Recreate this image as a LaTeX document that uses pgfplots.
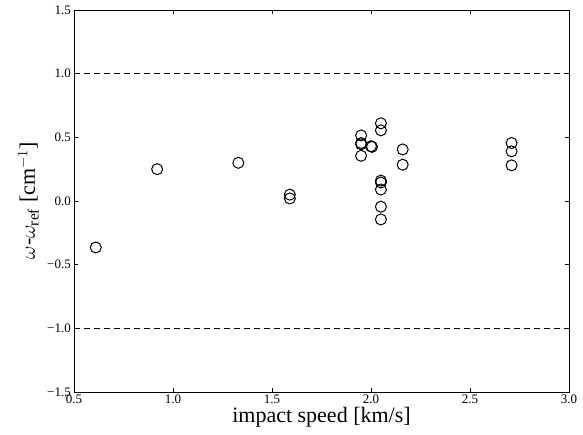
\documentclass[border=0pt]{standalone}
\usepackage{fontspec}
\setmainfont{Liberation Serif}
\usepackage{pgfplots}
\pgfplotsset{compat=1.18}
\begin{document}
\begin{tikzpicture}
\begin{axis}[
    scale only axis,
    width=495pt, height=382pt,
    xmin=0.5, xmax=3.0,
    ymin=-1.5, ymax=1.5,
    xtick={0.5,1.0,1.5,2.0,2.5,3.0},
    xticklabels={0.5,1.0,1.5,2.0,2.5,3.0},
    ytick={-1.5,-1.0,-0.5,0.0,0.5,1.0,1.5},
    yticklabels={−1.5,−1.0,−0.5,0.0,0.5,1.0,1.5},
    tick pos=both,
    tick align=inside,
    major tick length=4pt,
    tick style={black, line width=0.6pt},
    axis line style={line width=0.8pt},
    ticklabel style={font=\fontsize{13}{15}\selectfont},
    xticklabel style={inner sep=1pt, yshift=-2pt},
    yticklabel style={inner sep=1pt, xshift=-2pt},
    xlabel={impact speed [km/s]},
    ylabel={$\omega$-$\omega_{\mathrm{ref}}$ [cm$^{-1}$]},
    label style={font=\fontsize{22}{25}\selectfont},
    xlabel style={yshift=1pt},
    ylabel style={yshift=4pt},
    clip=false,
]
% dashed reference lines
\addplot[black, line width=0.8pt, dash pattern=on 6pt off 4pt] coordinates {(0.5,1.0) (3.0,1.0)};
\addplot[black, line width=0.8pt, dash pattern=on 6pt off 4pt] coordinates {(0.5,-1.0) (3.0,-1.0)};

% measurements
\addplot[only marks, mark=o, mark size=5.5pt, mark options={line width=1pt, black}] coordinates {
    (0.61,-0.365)
    (0.92,0.25)
    (1.33,0.30)
    (1.59,0.05)
    (1.59,0.02)
    (1.95,0.515)
    (1.95,0.455)
    (1.95,0.445)
    (1.95,0.355)
    (2.00,0.43)
    (2.005,0.425)
    (2.05,0.61)
    (2.05,0.555)
    (2.05,0.16)
    (2.05,0.145)
    (2.05,0.09)
    (2.05,-0.045)
    (2.05,-0.145)
    (2.16,0.405)
    (2.16,0.285)
    (2.71,0.455)
    (2.71,0.39)
    (2.71,0.28)
};
\coordinate (ll) at (rel axis cs:0,0);
\coordinate (ur) at (rel axis cs:1,1);
\end{axis}
\pgfresetboundingbox
\path[use as bounding box] ([shift={(-74pt,-43pt)}]ll) rectangle ([shift={(14pt,10pt)}]ur);
\end{tikzpicture}
\end{document}
